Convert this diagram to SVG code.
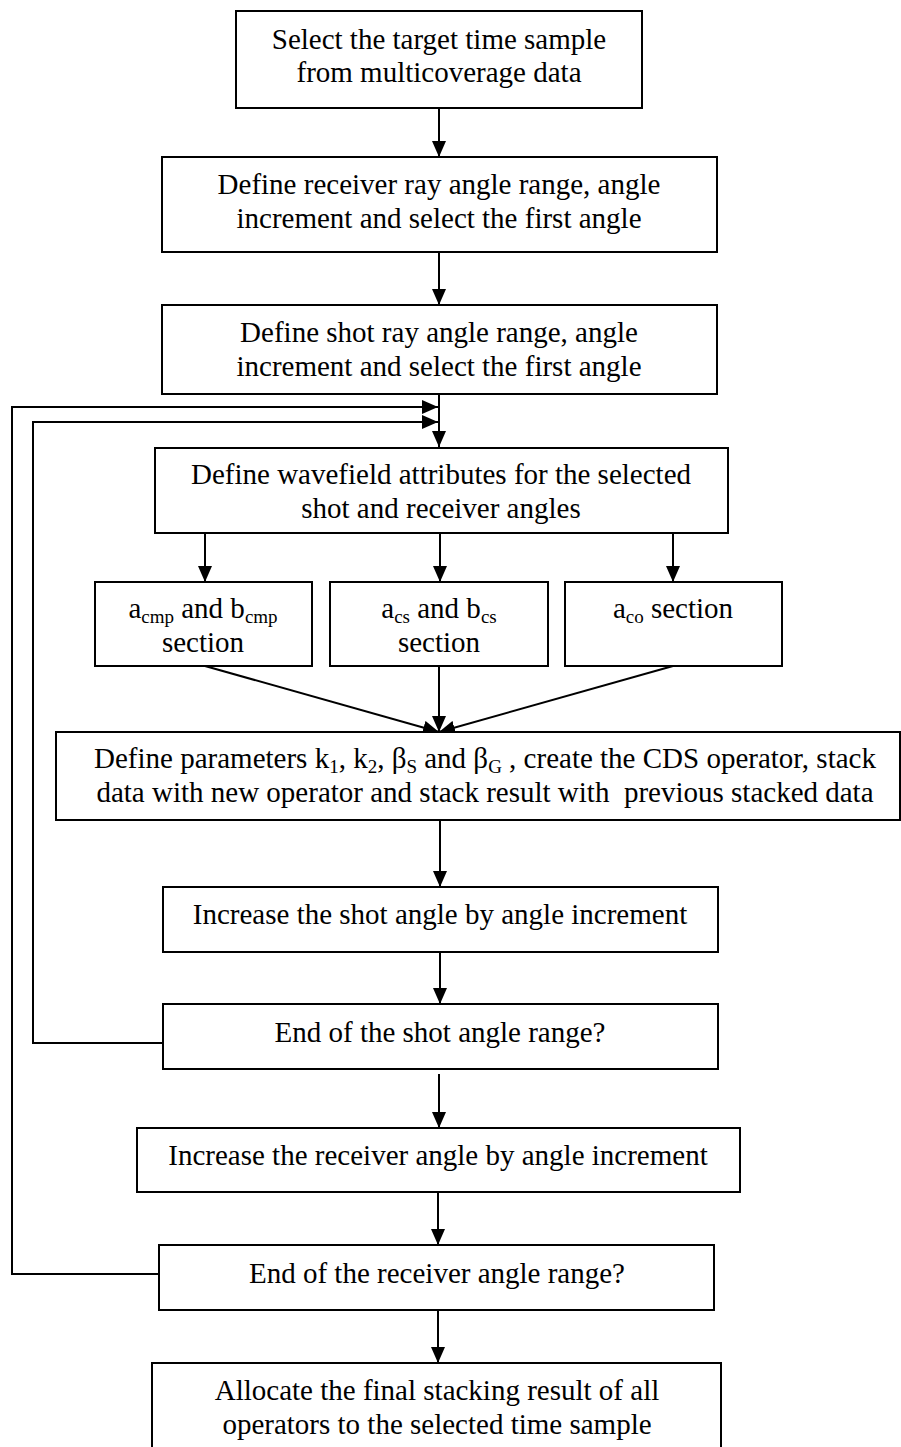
<svg xmlns="http://www.w3.org/2000/svg" width="901" height="1447" viewBox="0 0 901 1447">
<defs>
<marker id="ah" markerUnits="userSpaceOnUse" markerWidth="16" markerHeight="14" refX="16" refY="7" orient="auto" viewBox="0 0 16 14">
<path d="M0,0 L16,7 L0,14 Z" fill="#000"/>
</marker>
</defs>
<style>
rect{fill:#fff;stroke:#000;stroke-width:2}
text{font-family:"Liberation Serif","Times New Roman",serif;font-size:29px;fill:#000;text-anchor:middle}
.sub{font-size:19px}
.c{fill:none;stroke:#000;stroke-width:2;marker-end:url(#ah)}
.l{fill:none;stroke:#000;stroke-width:2}
</style>
<rect x="0" y="0" width="901" height="1447" style="fill:#fff;stroke:none"/>
<g id="connectors">
<line class="c" x1="439" y1="108" x2="439" y2="157"/>
<line class="c" x1="439" y1="252" x2="439" y2="305"/>
<line class="c" x1="439" y1="394" x2="439" y2="447"/>
<polyline class="c" points="158,1274 12,1274 12,407 438,407"/>
<polyline class="c" points="163,1043 33,1043 33,422 438,422"/>
<line class="c" x1="205" y1="533" x2="205" y2="582"/>
<line class="c" x1="440" y1="533" x2="440" y2="582"/>
<line class="c" x1="673" y1="533" x2="673" y2="582"/>
<line class="c" x1="205" y1="666" x2="439" y2="732"/>
<line class="c" x1="439" y1="666" x2="439" y2="732"/>
<line class="c" x1="673" y1="666" x2="439" y2="732"/>
<line class="c" x1="440" y1="820" x2="440" y2="887"/>
<line class="c" x1="440" y1="952" x2="440" y2="1004"/>
<line class="c" x1="439" y1="1074" x2="439" y2="1128"/>
<line class="c" x1="438" y1="1192" x2="438" y2="1245"/>
<line class="c" x1="438" y1="1310" x2="438" y2="1363"/>
</g>
<g id="n1">
<rect x="236" y="11" width="406" height="97"/>
<text x="439" y="49">Select the target time sample</text>
<text x="439" y="82">from multicoverage data</text>
</g>
<g id="n2">
<rect x="162" y="157" width="555" height="95"/>
<text x="439" y="194">Define receiver ray angle range, angle</text>
<text x="439" y="228">increment and select the first angle</text>
</g>
<g id="n3">
<rect x="162" y="305" width="555" height="89"/>
<text x="439" y="342">Define shot ray angle range, angle</text>
<text x="439" y="376">increment and select the first angle</text>
</g>
<g id="n4">
<rect x="155" y="448" width="573" height="85"/>
<text x="441" y="484">Define wavefield attributes for the selected</text>
<text x="441" y="518">shot and receiver angles</text>
</g>
<g id="n5">
<rect x="95" y="582" width="217" height="84"/>
<text x="203" y="618">a<tspan class="sub" dy="5">cmp</tspan><tspan dy="-5"> and b</tspan><tspan class="sub" dy="5">cmp</tspan></text>
<text x="203" y="652">section</text>
</g>
<g id="n6">
<rect x="330" y="582" width="218" height="84"/>
<text x="439" y="618">a<tspan class="sub" dy="5">cs</tspan><tspan dy="-5"> and b</tspan><tspan class="sub" dy="5">cs</tspan></text>
<text x="439" y="652">section</text>
</g>
<g id="n7">
<rect x="565" y="582" width="217" height="84"/>
<text x="673" y="618">a<tspan class="sub" dy="5">co</tspan><tspan dy="-5"> section</tspan></text>
</g>
<g id="n8">
<rect x="56" y="732" width="844" height="88"/>
<text x="485" y="768">Define parameters k<tspan class="sub" dy="5">1</tspan><tspan dy="-5">, k</tspan><tspan class="sub" dy="5">2</tspan><tspan dy="-5">, β</tspan><tspan class="sub" dy="5">S</tspan><tspan dy="-5"> and β</tspan><tspan class="sub" dy="5">G</tspan><tspan dy="-5"> , create the CDS operator, stack</tspan></text>
<text x="485" y="802">data with new operator and stack result with &#160;previous stacked data</text>
</g>
<g id="n9">
<rect x="163" y="887" width="555" height="65"/>
<text x="440" y="924">Increase the shot angle by angle increment</text>
</g>
<g id="n10">
<rect x="163" y="1004" width="555" height="65"/>
<text x="440" y="1042">End of the shot angle range?</text>
</g>
<g id="n11">
<rect x="137" y="1128" width="603" height="64"/>
<text x="438" y="1165">Increase the receiver angle by angle increment</text>
</g>
<g id="n12">
<rect x="159" y="1245" width="555" height="65"/>
<text x="437" y="1283">End of the receiver angle range?</text>
</g>
<g id="n13">
<rect x="152" y="1363" width="569" height="90"/>
<text x="437" y="1400">Allocate the final stacking result of all</text>
<text x="437" y="1434">operators to the selected time sample</text>
</g>
</svg>
